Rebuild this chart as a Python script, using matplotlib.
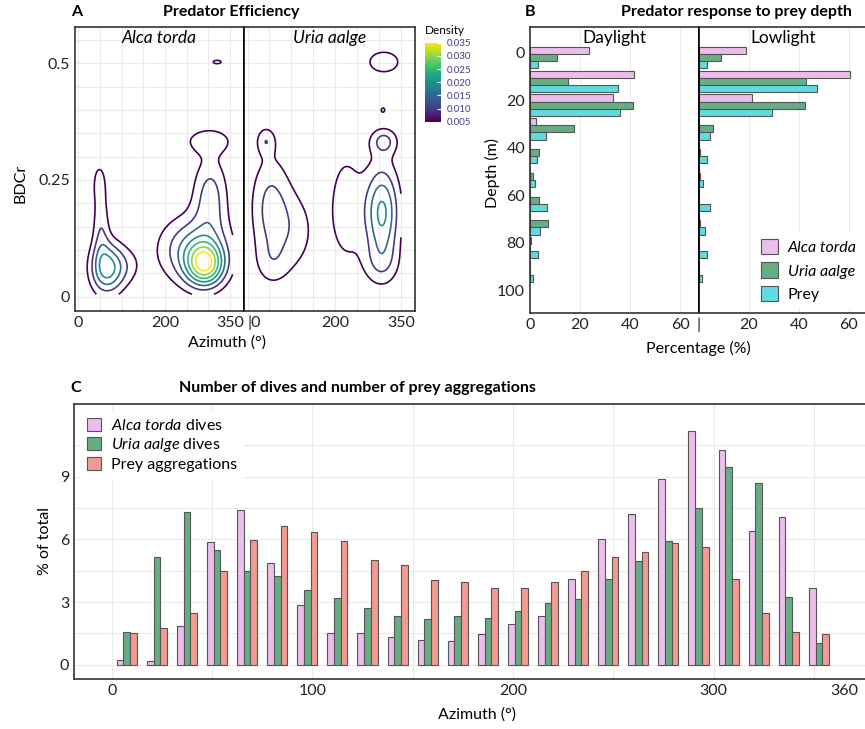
import numpy as np
import matplotlib
matplotlib.use('Agg')
import matplotlib.pyplot as plt
from matplotlib.cm import ScalarMappable
from matplotlib.colors import Normalize

plt.rcParams['font.family'] = ['Lato', 'DejaVu Sans']
plt.rcParams['mathtext.fontset'] = 'custom'
plt.rcParams['mathtext.rm'] = 'Lato'
plt.rcParams['mathtext.it'] = 'Lato:italic'

# ---------------- panel A: 2d density, as gaussian components
# azimuth (deg), BDCr, sd azimuth, sd BDCr, peak density
alca_az = [67, 115, 52, 48, 292, 268, 304, 301, 320]
alca_bd = [0.061, 0.065, 0.15, 0.245, 0.068, 0.10, 0.215, 0.333, 0.503]
alca_saz = [27, 25, 14, 11, 30, 56, 28, 40, 15]
alca_sbd = [0.038, 0.03, 0.06, 0.03, 0.032, 0.05, 0.06, 0.02, 0.006]
alca_amp = [0.0215, 0.0045, 0.0085, 0.006, 0.027, 0.016, 0.012, 0.008, 0.006]

uria_az = [52, 110, 42, 55, 307, 305, 225, 311, 309, 311]
uria_bd = [0.19, 0.14, 0.334, 0.07, 0.18, 0.07, 0.19, 0.333, 0.40, 0.503]
uria_saz = [32, 35, 15, 28, 27, 30, 30, 22, 7, 35]
uria_sbd = [0.08, 0.065, 0.02, 0.035, 0.07, 0.035, 0.09, 0.02, 0.008, 0.023]
uria_amp = [0.0112, 0.0065, 0.0079, 0.0045, 0.021, 0.0065, 0.008, 0.0105, 0.0056, 0.0075]

levels = [0.005, 0.010, 0.015, 0.020, 0.025, 0.030, 0.035]

# ---------------- panel B: depth distribution (%)
depth_bin = np.arange(0, 100, 10)
day_alca = [23.6, 41.5, 33.3, 2.2, 0, 0, 0, 0, 0.2, 0]
day_uria = [10.6, 15.2, 41.2, 17.6, 3.6, 1.3, 3.4, 7.3, 0, 0]
day_prey = [3.0, 35.0, 35.8, 6.2, 2.9, 1.9, 6.8, 4.0, 3.0, 1.2]
low_alca = [18.7, 60.3, 21.2, 0, 0, 0, 0, 0, 0, 0]
low_uria = [8.6, 42.9, 42.5, 5.5, 0.5, 0.2, 0, 0.3, 0, 0]
low_prey = [3.3, 47.0, 29.3, 4.2, 3.2, 1.7, 4.5, 2.5, 3.2, 1.2]

# ---------------- panel C: % of total per 15 deg azimuth bin
az_mid = np.arange(7.5, 360, 15)
alca_dives = [0.21, 0.16, 1.86, 5.86, 7.4, 4.86, 2.87, 1.51, 1.51, 1.31, 1.18, 1.16,
              1.46, 1.93, 2.34, 4.09, 6.0, 7.2, 8.87, 11.2, 10.27, 6.39, 7.09, 3.66]
uria_dives = [1.59, 5.16, 7.29, 5.49, 4.49, 4.24, 3.57, 3.18, 2.72, 2.34, 2.2, 2.31,
              2.23, 2.55, 2.96, 3.14, 4.08, 4.95, 5.91, 7.48, 9.46, 8.71, 3.25, 1.04]
prey_aggr = [1.53, 1.78, 2.48, 4.49, 5.96, 6.64, 6.37, 5.91, 5.02, 4.75, 4.06, 3.98,
             3.65, 3.65, 3.98, 4.49, 5.14, 5.41, 5.83, 5.62, 4.12, 2.48, 1.59, 1.46]

c_alca = '#EBBEEB'
c_uria = '#66AD84'
c_prey = '#5EDCE0'
c_aggr = '#F59A92'
edge = '#555555'
grid_c = '#EBEBEB'
frame_c = '#333333'

W, H = 865, 729
fig = plt.figure(figsize=(W / 100, H / 100), dpi=100)


def box(x0, y0, x1, y1):
    return [x0 / W, 1 - y1 / H, (x1 - x0) / W, (y1 - y0) / H]


def density(az_g, bd_g, az, bd, saz, sbd, amp):
    A, B = np.meshgrid(az_g, bd_g)
    z = np.zeros_like(A)
    for a, b, sa, sb, m in zip(az, bd, saz, sbd, amp):
        z += m * np.exp(-((A - a) ** 2) / (2 * sa ** 2) - ((B - b) ** 2) / (2 * sb ** 2))
    return A, B, z


def style_frame(ax):
    for s in ax.spines.values():
        s.set_color(frame_c)
        s.set_linewidth(1.2)
    ax.tick_params(length=0, labelsize=11.5, labelcolor='#222222')
    ax.set_axisbelow(True)


norm = Normalize(0.005, 0.035)
cmap = plt.get_cmap('viridis')

# ---- A
axA1 = fig.add_axes(box(75, 27, 244, 311))
axA2 = fig.add_axes(box(244, 27, 415, 311))
for ax, name, comps, azmax, bdmin in [
        (axA1, 'Alca torda', (alca_az, alca_bd, alca_saz, alca_sbd, alca_amp), 356, 0.005),
        (axA2, 'Uria aalge', (uria_az, uria_bd, uria_saz, uria_sbd, uria_amp), 350, 0.012)]:
    A, B, z = density(np.linspace(0, azmax, 400), np.linspace(bdmin, 0.56, 400), *comps)
    ax.contour(A, B, z, levels=levels, cmap=cmap, norm=norm, linewidths=1.2)
    ax.set_xlim(-8, 382)
    ax.set_ylim(-0.031, 0.578)
    for g in np.arange(0, 351, 50):
        ax.axvline(g, color=grid_c, lw=0.8, zorder=0)
    for g in np.arange(0, 0.56, 0.05):
        ax.axhline(g, color=grid_c, lw=0.8, zorder=0)
    ax.set_xticks([0, 200, 350])
    ax.text(0.5, 0.99, name, transform=ax.transAxes, ha='center', va='top',
            fontsize=12.5, style='italic')
    style_frame(ax)
axA1.set_xticklabels(['0', '200', '350'])
axA2.set_xticklabels(['|0', '200', '350'])
axA2.get_xticklabels()[0].set_horizontalalignment('left')
axA1.set_yticks([0, 0.25, 0.5])
axA1.set_yticklabels(['0', '0.25', '0.5'])
axA2.set_yticks([])
axA1.spines['right'].set_color('black')
axA2.spines['left'].set_color('black')
fig.text(20 / W, 1 - 183 / H, 'BDCr', rotation=90, ha='center', va='center', fontsize=11.5)
fig.text(227 / W, 1 - 343 / H, 'Azimuth (°)', ha='center', va='center', fontsize=11.5)
fig.text(77 / W, 1 - 12 / H, 'A', ha='center', va='center', fontsize=11.5, weight='bold')
fig.text(231 / W, 1 - 12 / H, 'Predator Efficiency', ha='center', va='center',
         fontsize=11.5, weight='bold')

cax = fig.add_axes(box(425, 42.7, 441, 121.7))
cb = fig.colorbar(ScalarMappable(norm=norm, cmap=cmap), cax=cax, ticks=levels)
cb.outline.set_visible(False)
cax.tick_params(direction='in', length=3, color='white', labelsize=7, labelcolor='#3d3d86', pad=4)
cax.set_yticklabels(['%.3f' % v for v in levels])
fig.text(425 / W, 1 - 30 / H, 'Density', ha='left', va='center', fontsize=8.5)

# ---- B
axB1 = fig.add_axes(box(530, 27, 699, 313))
axB2 = fig.add_axes(box(699, 27, 868, 313))
bh = 3.0
for ax, name, vals in [(axB1, 'Daylight', (day_alca, day_uria, day_prey)),
                       (axB2, 'Lowlight', (low_alca, low_uria, low_prey))]:
    for k, (v, c, lab) in enumerate(zip(vals, (c_alca, c_uria, c_prey),
                                        ('Alca torda', 'Uria aalge', 'Prey'))):
        ax.barh(depth_bin + 2 + (k - 1) * bh, v, height=bh, color=c, edgecolor=edge,
                linewidth=0.8, label=lab, zorder=2)
    ax.set_xlim(0, 67.6)
    ax.set_ylim(109.5, -10.9)
    for g in (20, 40, 60):
        ax.axvline(g, color=grid_c, lw=0.8, zorder=0)
    ax.text(0.5, 0.99, name, transform=ax.transAxes, ha='center', va='top', fontsize=12.5)
    style_frame(ax)
axB1.set_yticks(np.arange(0, 101, 20))
axB1.set_xticks([0, 20, 40, 60])
axB2.set_yticks([])
axB2.set_xticks([0, 20, 40, 60])
axB2.set_xticklabels(['|', '20', '40', '60'])
axB1.spines['right'].set_color('black')
axB2.spines['left'].set_color('black')
leg = axB2.legend(loc='lower right', bbox_to_anchor=(1.0, 0.0), fontsize=11.5, frameon=True,
                  facecolor='white', edgecolor='none', framealpha=1, handlelength=1.1,
                  handleheight=1.1, handletextpad=0.6, labelspacing=0.45, borderaxespad=0.3)
leg.get_texts()[0].set_style('italic')
leg.get_texts()[1].set_style('italic')
fig.text(492 / W, 1 - 173 / H, 'Depth (m)', rotation=90, ha='center', va='center', fontsize=11.5)
fig.text(698 / W, 1 - 348 / H, 'Percentage (%)', ha='center', va='center', fontsize=11.5)
fig.text(530 / W, 1 - 12 / H, 'B', ha='center', va='center', fontsize=11.5, weight='bold')
fig.text(736 / W, 1 - 12 / H, 'Predator response to prey depth', ha='center', va='center',
         fontsize=11.5, weight='bold')

# ---- C
axC = fig.add_axes(box(74, 404, 868, 679))
bw = 10 / 3
axC.bar(az_mid - bw, alca_dives, width=bw, color=c_alca, edgecolor=edge, linewidth=0.8,
        label=r'$\it{Alca\ torda}$ dives', zorder=2)
axC.bar(az_mid, uria_dives, width=bw, color=c_uria, edgecolor=edge, linewidth=0.8,
        label=r'$\it{Uria\ aalge}$ dives', zorder=2)
axC.bar(az_mid + bw, prey_aggr, width=bw, color=c_aggr, edgecolor=edge, linewidth=0.8,
        label='Prey aggregations', zorder=2)
axC.set_xlim(-18.8, 377)
axC.set_ylim(-0.68, 12.47)
for g in np.arange(0, 351, 50):
    axC.axvline(g, color=grid_c, lw=0.8, zorder=0)
for g in np.arange(0, 11, 1.5):
    axC.axhline(g, color=grid_c, lw=0.8, zorder=0)
axC.set_xticks([0, 100, 200, 300, 365])
axC.set_xticklabels(['0', '100', '200', '300', '360'])
axC.set_yticks([0, 3, 6, 9])
style_frame(axC)
axC.legend(loc='upper left', bbox_to_anchor=(0.004, 0.985), fontsize=11.5, frameon=True,
           facecolor='white', edgecolor='none', framealpha=1, handlelength=0.9,
           handleheight=0.9, handletextpad=0.6, labelspacing=0.2, borderaxespad=0.2)
fig.text(45 / W, 1 - 541 / H, '% of total', rotation=90, ha='center', va='center', fontsize=11.5)
fig.text(477 / W, 1 - 715 / H, 'Azimuth (°)', ha='center', va='center', fontsize=11.5)
fig.text(76 / W, 1 - 388 / H, 'C', ha='center', va='center', fontsize=11.5, weight='bold')
fig.text(357 / W, 1 - 388 / H, 'Number of dives and number of prey aggregations',
         ha='center', va='center', fontsize=11.5, weight='bold')

fig.savefig('out.png', dpi=100)
